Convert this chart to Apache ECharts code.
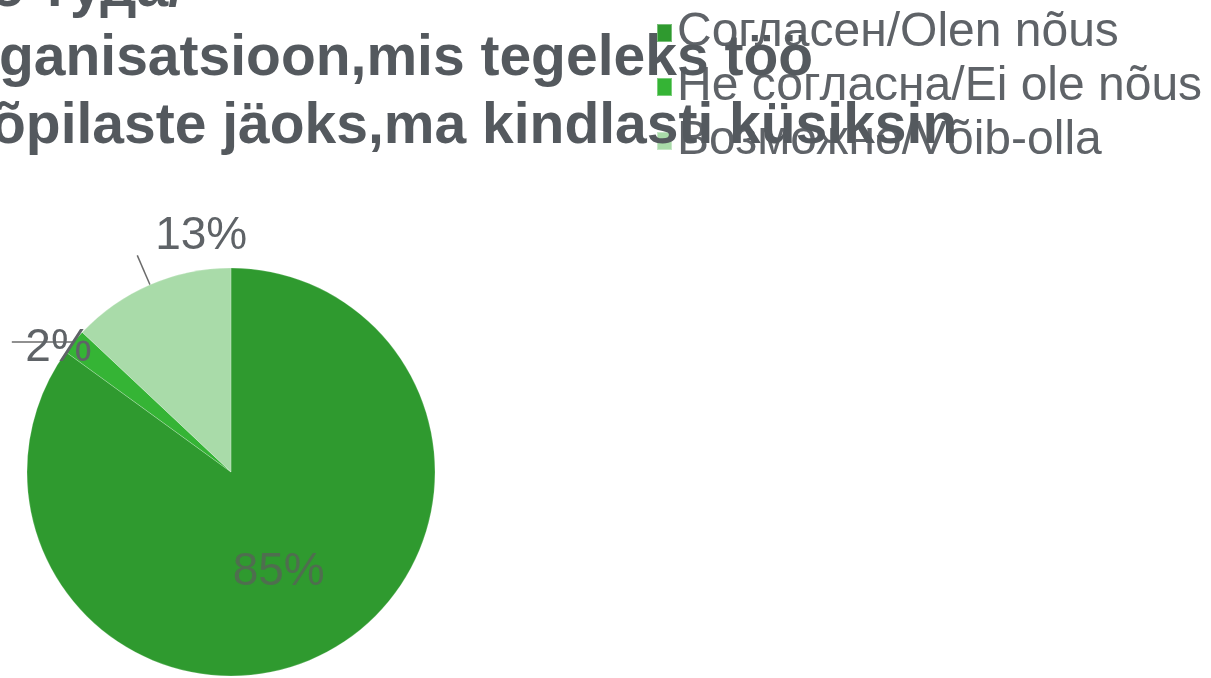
<!DOCTYPE html>
<html>
<head>
<meta charset="utf-8">
<script src="https://cdn.jsdelivr.net/npm/echarts@6/dist/echarts.min.js"></script>
<style>
html,body{margin:0;padding:0;background:#fff;overflow:hidden;}
#chart{width:1211px;height:678px;}
</style>
</head>
<body>
<div id="chart"></div>
<script>
const titleLines = ['о туда/', 'ganisatsioon,mis tegeleks töö', 'õpilaste jäoks,ma kindlasti küsiksin'];
const categories = ['Согласен/Olen nõus', 'Не согласна/Ei ole nõus', 'Возможно/Võib-olla'];
const values = [85, 2, 13];
const sliceColors = ['#2f9a2f', '#35b435', '#a9dba9'];

const chart = echarts.init(document.getElementById('chart'), null, {renderer: 'canvas'});

const titleOffsets = [[-10, -38], [-1, 31], [-9, 99]];
const titles = titleLines.map((t, i) => ({
  text: t,
  left: titleOffsets[i][0],
  top: titleOffsets[i][1],
  padding: 0,
  textStyle: {
    fontFamily: 'Liberation Sans, Arial, sans-serif',
    fontWeight: 'bold',
    fontSize: 57,
    lineHeight: 57,
    color: '#54595e'
  }
}));

// spacer line heights: positive = spacer above (text moves down), negative = spacer below (text moves up)
const spacers = [14, 12, -38];
function makeLabel(i, base) {
  const s = spacers[i];
  const colour = base.color;
  return Object.assign({}, base, {
    formatter: (p) => {
      const v = '{v|' + Math.round(p.percent) + '%}';
      return s >= 0 ? '{s| }\n' + v : v + '\n{t| }';
    },
    rich: {
      v: {fontSize: 46, lineHeight: 46, color: colour, fontFamily: 'Liberation Sans, Arial, sans-serif'},
      s: {fontSize: 10, lineHeight: Math.abs(s)},
      t: {fontSize: 10, lineHeight: Math.abs(s)}
    }
  });
}
const labelOpts = [
  makeLabel(0, {position: 'inside', color: '#4f6e4f'}),
  makeLabel(1, {position: 'outside', distanceToLabelLine: -80, color: '#5f6367'}),
  makeLabel(2, {position: 'outside', distanceToLabelLine: -110, color: '#5f6367'})
];
const lineOpts = [
  {show: false},
  {show: true, length: 0, length2: 62},
  {show: true, length: 32, length2: 0}
];

chart.setOption({
  backgroundColor: '#ffffff',
  animation: false,
  title: titles,
  legend: {
    orient: 'vertical',
    left: 656,
    top: 9,
    padding: 0,
    itemWidth: 15,
    itemHeight: 18,
    itemGap: 6,
    icon: 'rect',
    z: 5,
    textStyle: {
      fontFamily: 'Liberation Sans, Arial, sans-serif',
      fontSize: 48,
      lineHeight: 48,
      color: '#5f6368'
    },
    data: categories
  },
  series: [{
    type: 'pie',
    center: [231, 472],
    radius: 204,
    startAngle: 90,
    clockwise: true,
    avoidLabelOverlap: false,
    itemStyle: {borderColor: 'rgba(255,255,255,0.35)', borderWidth: 0.6},
    emphasis: {disabled: true},
    label: {
      fontFamily: 'Liberation Sans, Arial, sans-serif',
      alignTo: 'none'
    },
    labelLine: {lineStyle: {color: '#6b6b6b', width: 1.5}},
    data: categories.map((c, i) => ({
      name: c,
      value: values[i],
      itemStyle: {color: sliceColors[i]},
      label: labelOpts[i],
      labelLine: lineOpts[i]
    }))
  }]
});
</script>
</body>
</html>
